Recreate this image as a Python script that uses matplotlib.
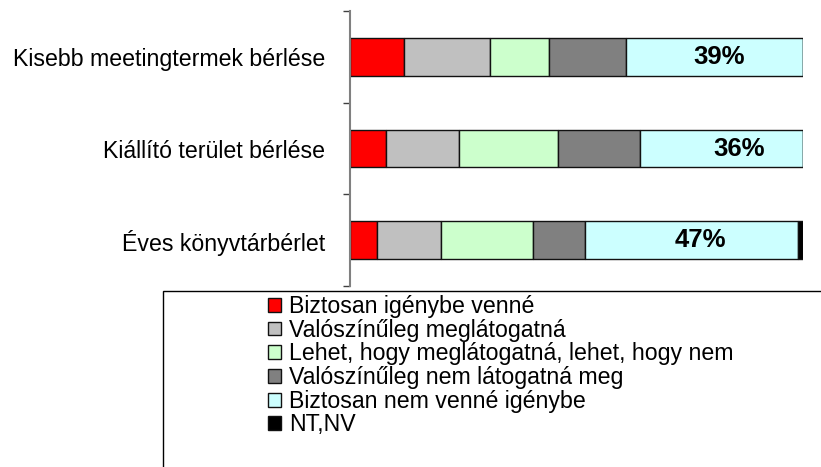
import numpy as np
import matplotlib.pyplot as plt
from matplotlib.patches import Patch, Rectangle

plt.rcParams['font.family'] = ['Liberation Sans', 'DejaVu Sans']

categories = ['Kisebb meetingtermek bérlése', 'Kiállító terület bérlése', 'Éves könyvtárbérlet']
series = ['Biztosan igénybe venné', 'Valószínűleg meglátogatná',
          'Lehet, hogy meglátogatná, lehet, hogy nem', 'Valószínűleg nem látogatná meg',
          'Biztosan nem venné igénybe', 'NT,NV']
colors = ['#ff0000', '#c0c0c0', '#ccffcc', '#808080', '#ccffff', '#000000']

# percent per category, one list per answer
biztosan_igen = [12, 8, 6]
valoszinuleg_igen = [19, 16, 14]
lehet = [13, 22, 20.5]
valoszinuleg_nem = [17, 18, 11.5]
biztosan_nem = [39, 36, 47]
nt_nv = [0, 0, 1]
values = [biztosan_igen, valoszinuleg_igen, lehet, valoszinuleg_nem, biztosan_nem, nt_nv]

label_dx = [1, 4, 2]  # label nudge inside the cyan segment

fig = plt.figure(figsize=(8.21, 4.67), dpi=100)
ax = fig.add_axes([350/821, 1-286/467, 452.7/821, 275/467])

y = np.arange(len(categories))
left = np.zeros(len(categories))
for vals, col, name in zip(values, colors, series):
    ax.barh(y, vals, left=left, height=0.41, color=col, edgecolor='#111111', linewidth=1.0, label=name)
    left += np.array(vals)

# percentage labels on the "Biztosan nem" segment
start = np.zeros(len(categories))
for vals in values[:4]:
    start += np.array(vals)
for i, v in enumerate(biztosan_nem):
    ax.text(start[i] + v/2 + label_dx[i], y[i], '%d%%' % v, ha='center', va='center',
            fontsize=18.5, fontweight='bold')

ax.set_xlim(0, 100)
ax.set_ylim(2.5, -0.5)
ax.set_yticks([-0.5, 0.5, 1.5, 2.5])
ax.set_yticklabels([])
ax.set_yticks(y, minor=True)
ax.set_yticklabels(categories, minor=True, fontsize=16.7)
ax.tick_params(axis='y', which='major', direction='out', length=5, color='#404040', width=1)
ax.tick_params(axis='y', which='minor', length=0, pad=18)
ax.xaxis.set_visible(False)
for s in ['top', 'right', 'bottom']:
    ax.spines[s].set_visible(False)
ax.spines['left'].set_color('#808080')
ax.spines['left'].set_linewidth(1.5)

# legend box runs off the figure edge
fig.patches.append(Rectangle((163/821, -0.1), 1, 1-291/467+0.1, transform=fig.transFigure,
                             fill=False, edgecolor='black', linewidth=1.0))
handles = [Patch(facecolor=c, edgecolor='#111111', linewidth=1.0) for c in colors]
fig.legend(handles, series, loc='upper left', bbox_to_anchor=(268/821, 1-295/467),
           frameon=False, fontsize=16.7, labelspacing=0.03, handlelength=0.55, handleheight=0.55,
           handletextpad=0.35, borderpad=0, borderaxespad=0)

fig.savefig('out.png', dpi=100)
